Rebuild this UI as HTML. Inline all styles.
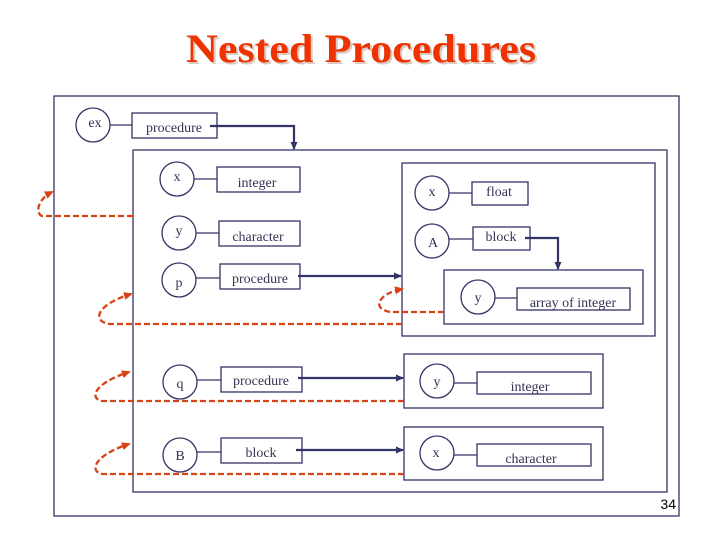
<!DOCTYPE html>
<html><head><meta charset="utf-8"><style>body{margin:0;background:#fff}svg{display:block}</style></head><body>
<svg width="720" height="540" viewBox="0 0 720 540" xmlns="http://www.w3.org/2000/svg">
<defs>
<marker id="nb" markerWidth="8" markerHeight="8" refX="7" refY="4" orient="auto" markerUnits="userSpaceOnUse"><path d="M0,0.5 L8,4 L0,7.5z" fill="#333366"/></marker>
<marker id="rb" markerWidth="9" markerHeight="9" refX="7" refY="4.5" orient="auto" markerUnits="userSpaceOnUse"><path d="M0,0.5 L9,4.5 L0,8.5z" fill="#d84315"/></marker>
</defs>
<text x="361" y="62" text-anchor="middle" font-family="Liberation Serif, serif" font-weight="bold" font-size="40" fill="#d8c8c0" textLength="350" lengthAdjust="spacingAndGlyphs" transform="translate(2,2)">Nested Procedures</text>
<text x="361" y="62" text-anchor="middle" font-family="Liberation Serif, serif" font-weight="bold" font-size="40" fill="#ee3300" textLength="350" lengthAdjust="spacingAndGlyphs">Nested Procedures</text>
<g fill="none" stroke="#333366" stroke-width="1.3">
<rect x="54" y="96" width="625" height="420"/>
<rect x="133" y="150" width="534" height="342"/>
<rect x="402" y="163" width="253" height="173"/>
<rect x="444" y="270" width="199" height="54"/>
<rect x="404" y="354" width="199" height="54"/>
<rect x="404" y="427" width="199" height="53"/>
<circle cx="93" cy="125" r="17"/>
<rect x="132" y="113" width="85" height="25"/>
<line x1="110" y1="125" x2="132" y2="125"/>
<circle cx="177" cy="179" r="17"/><rect x="217" y="167" width="83" height="25"/><line x1="194" y1="179" x2="217" y2="179"/>
<circle cx="179" cy="233" r="17"/><rect x="219" y="221" width="81" height="25"/><line x1="196" y1="233" x2="219" y2="233"/>
<circle cx="179" cy="280" r="17"/><rect x="220" y="264" width="80" height="25"/><line x1="196" y1="278" x2="220" y2="278"/>
<circle cx="432" cy="193" r="17"/><rect x="472" y="182" width="56" height="23"/><line x1="449" y1="193" x2="472" y2="193"/>
<circle cx="432" cy="241" r="17"/><rect x="473" y="227" width="57" height="23"/><line x1="449" y1="239" x2="473" y2="239"/>
<circle cx="478" cy="297" r="17"/><rect x="517" y="288" width="113" height="22"/><line x1="495" y1="298" x2="517" y2="298"/>
<circle cx="180" cy="382" r="17"/><rect x="221" y="367" width="81" height="25"/><line x1="197" y1="380" x2="221" y2="380"/>
<circle cx="437" cy="381" r="17"/><rect x="477" y="372" width="114" height="22"/><line x1="454" y1="383" x2="477" y2="383"/>
<circle cx="180" cy="455" r="17"/><rect x="221" y="438" width="81" height="25"/><line x1="197" y1="452" x2="221" y2="452"/>
<circle cx="437" cy="453" r="17"/><rect x="477" y="444" width="114" height="22"/><line x1="454" y1="455" x2="477" y2="455"/>
</g>
<g fill="none" stroke="#333366" stroke-width="2.2">
<path d="M210,126 H294 V149" marker-end="url(#nb)"/>
<path d="M298,276 H401" marker-end="url(#nb)"/>
<path d="M525,238 H558 V269" marker-end="url(#nb)"/>
<path d="M298,378 H403" marker-end="url(#nb)"/>
<path d="M296,450 H403" marker-end="url(#nb)"/>
</g>
<g fill="none" stroke="#d84315" stroke-width="2.3" stroke-dasharray="6,3">
<path d="M133,216 H42 C36,214 36,200 52,192" marker-end="url(#rb)"/>
<path d="M402,324 H110 C92,322 95,305 131,294" marker-end="url(#rb)"/>
<path d="M444,312 H390 C370,308 380,293 402,289" marker-end="url(#rb)"/>
<path d="M404,401 H102 C90,399 92,384 129,372" marker-end="url(#rb)"/>
<path d="M404,474 H102 C90,472 92,456 129,444" marker-end="url(#rb)"/>
</g>
<g font-family="Liberation Serif, serif" font-size="14" fill="#333355" text-anchor="middle">
<text x="95" y="127">ex</text>
<text x="174" y="132">procedure</text>
<text x="177" y="181">x</text>
<text x="257" y="187">integer</text>
<text x="179" y="235">y</text>
<text x="258" y="241">character</text>
<text x="179" y="287">p</text>
<text x="260" y="283">procedure</text>
<text x="432" y="196">x</text>
<text x="499" y="196">float</text>
<text x="433" y="247">A</text>
<text x="501" y="241">block</text>
<text x="478" y="302">y</text>
<text x="573" y="307">array of integer</text>
<text x="180" y="388">q</text>
<text x="261" y="385">procedure</text>
<text x="437" y="386">y</text>
<text x="530" y="391">integer</text>
<text x="180" y="460">B</text>
<text x="261" y="457">block</text>
<text x="436" y="457">x</text>
<text x="531" y="463">character</text>
</g>
<text x="676" y="509" text-anchor="end" font-family="Liberation Sans, sans-serif" font-size="14" fill="#000">34</text>
</svg>
</body></html>
